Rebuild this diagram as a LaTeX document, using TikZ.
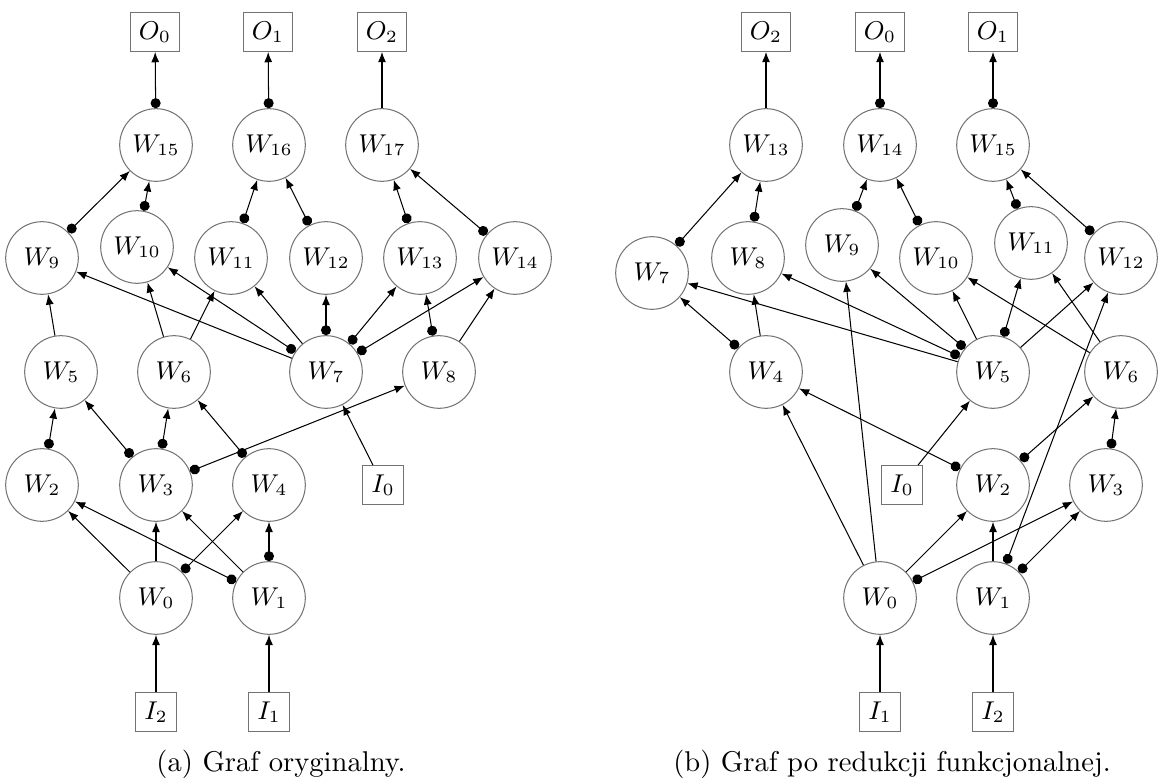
\documentclass[tikz,border=0pt]{standalone}
\usetikzlibrary{arrows.meta}
\begin{document}
\begin{tikzpicture}[x=0.3497pt,y=-0.3497pt,line width=0.36pt,
  gate/.style={circle,draw=black!55,minimum size=25.4pt,inner sep=0pt,font=\fontsize{9}{10.8}\selectfont},
  port/.style={rectangle,draw=black!55,inner sep=3pt,minimum height=13.6pt,font=\fontsize{9}{10.8}\selectfont},
  wire/.style={draw,-{Latex[length=3.6pt,width=2.8pt]}},
  negwire/.style={draw,{Circle[length=3.5pt]}-{Latex[length=3.6pt,width=2.8pt]}}]
\useasboundingbox (0,0) rectangle (1158,783);

% ---------------- (a) original graph ----------------
\node[port] (aO0) at (155,32) {$O_0$};
\node[port] (aO1) at (268,32) {$O_1$};
\node[port] (aO2) at (382,32) {$O_2$};
\node[gate] (aW15) at (156,145) {$W_{15}$};
\node[gate] (aW16) at (269,145) {$W_{16}$};
\node[gate] (aW17) at (382,145) {$W_{17}$};
\node[gate] (aW9)  at (42,258)  {$W_9$};
\node[gate] (aW10) at (137,247) {$W_{10}$};
\node[gate] (aW11) at (231,258) {$W_{11}$};
\node[gate] (aW12) at (326,258) {$W_{12}$};
\node[gate] (aW13) at (420,258) {$W_{13}$};
\node[gate] (aW14) at (515,258) {$W_{14}$};
\node[gate] (aW5) at (61,372)  {$W_5$};
\node[gate] (aW6) at (174,372) {$W_6$};
\node[gate] (aW7) at (326,372) {$W_7$};
\node[gate] (aW8) at (439,372) {$W_8$};
\node[gate] (aW2) at (42,485)  {$W_2$};
\node[gate] (aW3) at (156,485) {$W_3$};
\node[gate] (aW4) at (269,485) {$W_4$};
\node[port] (aI0) at (383,485) {$I_0$};
\node[gate] (aW0) at (156,598) {$W_0$};
\node[gate] (aW1) at (269,598) {$W_1$};
\node[port] (aI2) at (156,712) {$I_2$};
\node[port] (aI1) at (269,712) {$I_1$};
\node (acap) at (281,764) {(a) Graf oryginalny.};

\draw[negwire] (aW15) -- (aO0);
\draw[negwire] (aW16) -- (aO1);
\draw[wire]    (aW17) -- (aO2);
\draw[negwire] (aW9) -- (aW15);
\draw[negwire] (aW10) -- (aW15);
\draw[negwire] (aW11) -- (aW16);
\draw[negwire] (aW12) -- (aW16);
\draw[negwire] (aW13) -- (aW17);
\draw[negwire] (aW14) -- (aW17);
\draw[wire]    (aW5) -- (aW9);
\draw[wire]    (aW7) -- (aW9);
\draw[wire]    (aW6) -- (aW10);
\draw[negwire] (aW7) -- (aW10);
\draw[wire]    (aW6) -- (aW11);
\draw[wire]    (aW7) -- (aW11);
\draw[negwire] (aW7) -- (aW12);
\draw[negwire] (aW7) -- (aW13);
\draw[negwire] (aW8) -- (aW13);
\draw[negwire] (aW7) -- (aW14);
\draw[wire]    (aW8) -- (aW14);
\draw[negwire] (aW2) -- (aW5);
\draw[negwire] (aW3) -- (aW5);
\draw[negwire] (aW3) -- (aW6);
\draw[negwire] (aW4) -- (aW6);
\draw[wire]    (aI0) -- (aW7);
\draw[negwire] (aW3) -- (aW8);
\draw[wire]    (aW0) -- (aW2);
\draw[negwire] (aW1) -- (aW2);
\draw[wire]    (aW0) -- (aW3);
\draw[wire]    (aW1) -- (aW3);
\draw[negwire] (aW0) -- (aW4);
\draw[negwire] (aW1) -- (aW4);
\draw[wire]    (aI2) -- (aW0);
\draw[wire]    (aI1) -- (aW1);

% ---------------- (b) after functional reduction ----------------
\node[port] (bO2) at (766,32) {$O_2$};
\node[port] (bO0) at (880,32) {$O_0$};
\node[port] (bO1) at (993,32) {$O_1$};
\node[gate] (bW13) at (766,145) {$W_{13}$};
\node[gate] (bW14) at (880,145) {$W_{14}$};
\node[gate] (bW15) at (993,145) {$W_{15}$};
\node[gate] (bW7)  at (652,273) {$W_7$};
\node[gate] (bW8)  at (748,258) {$W_8$};
\node[gate] (bW9)  at (842,245) {$W_9$};
\node[gate] (bW10) at (936,258) {$W_{10}$};
\node[gate] (bW11) at (1031,243) {$W_{11}$};
\node[gate] (bW12) at (1121,258) {$W_{12}$};
\node[gate] (bW4) at (766,372)  {$W_4$};
\node[gate] (bW5) at (993,372)  {$W_5$};
\node[gate] (bW6) at (1121,372) {$W_6$};
\node[port] (bI0) at (902,485)  {$I_0$};
\node[gate] (bW2) at (993,485)  {$W_2$};
\node[gate] (bW3) at (1106,485) {$W_3$};
\node[gate] (bW0) at (880,598) {$W_0$};
\node[gate] (bW1) at (993,598) {$W_1$};
\node[port] (bI1) at (880,712) {$I_1$};
\node[port] (bI2) at (993,712) {$I_2$};
\node (bcap) at (892,764) {(b) Graf po redukcji funkcjonalnej.};

\draw[wire]    (bW13) -- (bO2);
\draw[negwire] (bW14) -- (bO0);
\draw[negwire] (bW15) -- (bO1);
\draw[negwire] (bW7) -- (bW13);
\draw[negwire] (bW8) -- (bW13);
\draw[negwire] (bW9) -- (bW14);
\draw[negwire] (bW10) -- (bW14);
\draw[negwire] (bW11) -- (bW15);
\draw[negwire] (bW12) -- (bW15);
\draw[negwire] (bW4) -- (bW7);
\draw[wire]    (bW4) -- (bW8);
\draw[wire]    (bW5) -- (bW7);
\draw[negwire] (bW5) -- (bW8);
\draw[negwire] (bW5) -- (bW9);
\draw[wire]    (bW5) -- (bW10);
\draw[negwire] (bW5) -- (bW11);
\draw[wire]    (bW5) -- (bW12);
\draw[wire]    (bW6) -- (bW10);
\draw[wire]    (bW6) -- (bW11);
\draw[negwire] (bW1) -- (bW12);
\draw[wire]    (bW0) -- (bW4);
\draw[wire]    (bW0) -- (bW9);
\draw[negwire] (bW2) -- (bW4);
\draw[wire]    (bI0) -- (bW5);
\draw[negwire] (bW2) -- (bW6);
\draw[negwire] (bW3) -- (bW6);
\draw[wire]    (bW0) -- (bW2);
\draw[negwire] (bW0) -- (bW3);
\draw[wire]    (bW1) -- (bW2);
\draw[negwire] (bW1) -- (bW3);
\draw[wire]    (bI1) -- (bW0);
\draw[wire]    (bI2) -- (bW1);
\end{tikzpicture}
\end{document}
